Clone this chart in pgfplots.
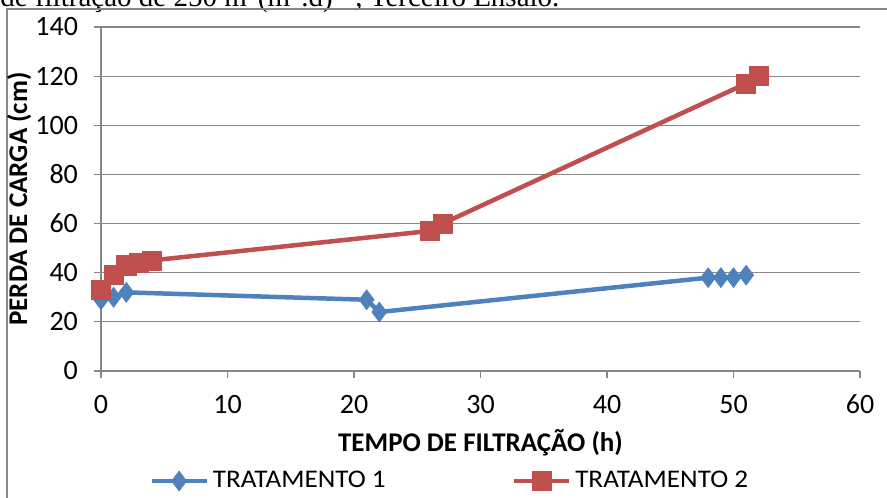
\documentclass[border=0pt]{standalone}
\usepackage{pgfplots}
\pgfplotsset{compat=1.18}
\usepackage{fontspec}
\setmainfont{Carlito}
\newfontfamily\timesfont{Liberation Serif}
\definecolor{serA}{HTML}{4F81BD}
\definecolor{serB}{HTML}{C0504D}
\definecolor{gridgray}{HTML}{868686}
\begin{document}
\begin{tikzpicture}
\useasboundingbox (0pt,0pt) rectangle (443.5pt,-248.5pt);
\clip (0pt,0pt) rectangle (443.5pt,-248.5pt);
% caption fragment, cut by the top of the page
\node[anchor=base west, inner sep=0pt, font=\timesfont\fontsize{14.5}{16}\selectfont]
  at (0pt,-3.1pt) {de filtração de 250 m\textsuperscript{3}(m\textsuperscript{2}.d)\textsuperscript{−1}, Terceiro Ensaio.};
% chart frame
\draw[gridgray, line width=1pt] (3.5pt,-260pt) -- (3.5pt,-4.5pt) -- (450pt,-4.5pt);
\begin{axis}[
  at={(50.5pt,-185.5pt)}, anchor=south west,
  scale only axis, width=379.5pt, height=172pt,
  xmin=0, xmax=60, ymin=0, ymax=140,
  xtick={0,10,...,60}, ytick={0,20,...,140},
  axis x line*=bottom, axis y line*=left,
  axis line style={gridgray, line width=0.6pt},
  tick align=outside, major tick length=3.5pt,
  tick style={gridgray, line width=0.6pt},
  ymajorgrids, grid style={gridgray, line width=0.6pt},
  tick label style={font=\fontsize{14}{16}\selectfont},
  xticklabel style={yshift=-5pt},
  yticklabel style={xshift=-4.5pt},
  /pgf/number format/assume math mode=true,
  xlabel={TEMPO DE FILTRAÇÃO (h)},
  ylabel={PERDA DE CARGA (cm)},
  label style={font=\bfseries\fontsize{13.5}{15}\selectfont},
  xlabel style={at={(axis description cs:0.5,-0.21)}, anchor=center},
  ylabel style={at={(axis description cs:-0.108,0.5)}, anchor=center},
  clip=false,
  legend columns=2,
  legend style={draw=none, fill=none, inner sep=0pt,
    at={(axis description cs:0.0632,-0.3198)}, anchor=west,
    font=\fontsize{12.7}{14}\selectfont\addfontfeatures{FakeStretch=1.07},
    /tikz/every even column/.append style={column sep=61pt}},
  legend image code/.code={\draw[mark repeat=2,mark phase=2] plot coordinates {(0pt,0pt) (13.75pt,0pt) (27.5pt,0pt)};},
]
% TRATAMENTO 1
\addplot[serA, line width=2.25pt, line join=round, mark=diamond*, mark size=5pt,
  mark options={fill=serA, draw=serA, line width=0.3pt}] coordinates {
  (0,29) (1,30) (2,32) (21,29) (22,24) (48,38) (49,38) (50,38) (51,39)
};
\addlegendentry{TRATAMENTO 1}
% TRATAMENTO 2
\addplot[serB, line width=2.25pt, line join=round, mark=square*, mark size=4.8pt,
  mark options={fill=serB, draw=serB, line width=0.3pt}] coordinates {
  (0,33) (1,39) (2,43) (3,44) (4,45) (26,57) (27,60) (51,117) (52,120)
};
\addlegendentry{TRATAMENTO 2}
\end{axis}
\end{tikzpicture}
\end{document}
